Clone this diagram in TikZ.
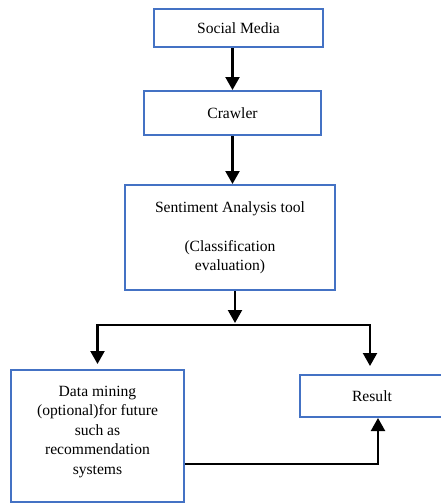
\documentclass[tikz,border=0pt]{standalone}
\usepackage{fontspec}
\setmainfont{Liberation Serif}
\usetikzlibrary{arrows.meta}
\definecolor{boxblue}{RGB}{68,114,196}

\begin{document}
\begin{tikzpicture}[x=1pt, y=-1pt, >={Triangle[width=14pt, length=13pt]},
  font=\rmfamily\fontsize{15.6}{19.5}\selectfont,
  stage/.style={draw=boxblue, line width=2pt, align=center, inner sep=0pt},
  flow/.style={->, line width=2.2pt}]

\useasboundingbox (0,0) rectangle (441,504);
\clip (0,0) rectangle (441,504);

% Pipeline stages, top to bottom
\node[stage, minimum width=169, minimum height=38] (social) at (238.5, 28) {Social Media};
\node[stage, minimum width=177, minimum height=44] (crawler) at (232.5, 113) {Crawler};
\node[stage, minimum width=210, minimum height=105] (sentiment) at (230, 237.5) {Sentiment Analysis tool\\[19.5pt](Classification\\evaluation)};
\node[stage, minimum width=173, minimum height=132, text depth=12pt] (mining) at (97.5, 436) {Data mining\\(optional)for future\\such as\\recommendation\\systems};
\node[stage, minimum width=144, minimum height=42] (result) at (372, 396) {Result};

% Split point below the analysis tool
\coordinate (fork) at (235, 325);

% Connectors
\draw[flow] (crawler.north |- social.south) -- (crawler.north);
\draw[flow] (crawler.south) -- (crawler.south |- sentiment.north);
\draw[flow] (sentiment.south -| fork) -- ([yshift=2]fork);
\draw[flow] (fork) -| ([yshift=5]mining.north);
\draw[flow] (fork) -| ([xshift=-2, yshift=8]result.north);
\draw[flow] ([yshift=-28]mining.east) -| ([xshift=6]result.south);

\end{tikzpicture}
\end{document}
